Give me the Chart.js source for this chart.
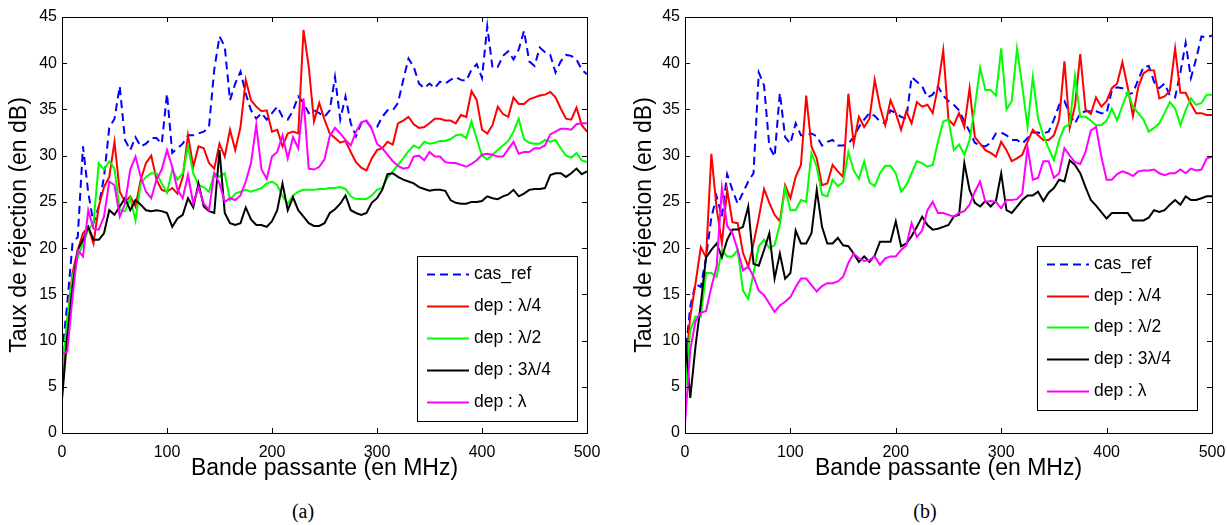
<!DOCTYPE html>
<html>
<head>
<meta charset="utf-8">
<title>Taux de réjection</title>
<script src="https://cdn.jsdelivr.net/npm/chart.js@4.4.0/dist/chart.umd.min.js"></script>
<style>
  html, body { margin: 0; padding: 0; background: #fff; }
  #page { position: relative; width: 1227px; height: 525px; overflow: hidden; }
  canvas { position: absolute; top: 0; }
  #chartA { left: 0; }
  #chartB { left: 617px; }
  .caption { position: absolute; top: 500px; width: 60px; text-align: center;
             font-family: 'Liberation Serif', 'DejaVu Serif', serif; font-size: 20px; color: #000; }
</style>
</head>
<body>
<div id="page">
  <canvas id="chartA" width="610" height="490" style="width:610px;height:490px"></canvas>
  <canvas id="chartB" width="610" height="490" style="width:610px;height:490px"></canvas>
  <div class="caption" style="left:273px">(a)</div>
  <div class="caption" style="left:895px">(b)</div>
</div>
<script>

const freqMHz = [
  0, 5, 10, 15, 20, 25, 30, 35, 40, 45, 50, 55, 60, 65, 70, 75, 80, 85, 90, 95,
  100, 105, 110, 115, 120, 125, 130, 135, 140, 145, 150, 155, 160, 165, 170, 175, 180, 185, 190, 195,
  200, 205, 210, 215, 220, 225, 230, 235, 240, 245, 250, 255, 260, 265, 270, 275, 280, 285, 290, 295,
  300, 305, 310, 315, 320, 325, 330, 335, 340, 345, 350, 355, 360, 365, 370, 375, 380, 385, 390, 395,
  400, 405, 410, 415, 420, 425, 430, 435, 440, 445, 450, 455, 460, 465, 470, 475, 480, 485, 490, 495,
  500
];

const xTickValues = [0, 100, 200, 300, 400, 500];
const yTickValues = [0, 5, 10, 15, 20, 25, 30, 35, 40, 45];

const seriesLabels = ['cas_ref', 'dep : λ/4', 'dep : λ/2', 'dep : 3λ/4', 'dep : λ'];
const seriesColors = ['#0000ff', '#ff0000', '#00ff00', '#000000', '#ff00ff'];

// figure (a)
const casRefA = [
  8.5, 14, 20.5, 21.2, 31, 26, 22.7, 24.5, 27.7, 33, 34, 37.5, 31.7, 30.6, 32, 31, 31.3, 31.9, 31.9, 31.3, 36.7, 30.3, 30.8, 31.3, 32.2,
  32.2, 32.4, 32.6, 33.1, 39.3, 42.9, 41.8, 36, 37.8, 39.1, 36.7, 34.9, 34, 34.6, 33.9, 34.6, 35.3, 34.2, 33.9, 34.9, 36.4, 35.7, 34.6, 34.9, 34.6,
  34.2, 34.9, 38.5, 33.9, 36.4, 33.5, 32.1, 33.5, 33.7, 33, 33.1, 34.2, 34.9, 34.9, 35.7, 38.2, 40.5, 39.6, 37.8, 37.3, 37.8, 37.3, 38, 37.8, 38.2,
  38.5, 38.2, 38.1, 39.3, 39.9, 38.4, 44, 39.5, 39.6, 40.8, 41.3, 40.4, 41.5, 43.5, 40.2, 39.7, 41.7, 41.2, 40.9, 39, 40.2, 40.9, 40.8, 40.4, 39.3, 38.8
];
const quartA = [
  4.3, 12.2, 17.3, 19.8, 21.6, 22.3, 20.5, 24.5, 26.6, 27.7, 31.5, 26.1, 25, 25.6, 24.5, 27.4, 29.2, 30, 27.4, 26.3, 26.1, 26.5, 25.9, 27.7, 32.2,
  28.8, 31, 30.8, 29.2, 28.6, 31.3, 29.9, 32.8, 30.6, 33.1, 38.2, 36, 35.3, 34.8, 34.9, 32.6, 32.8, 31, 32.4, 32.6, 32.4, 43.6, 39.6, 33.7, 35.7,
  33.9, 32.4, 31.9, 31.4, 31.6, 30.4, 29.3, 28.7, 28.4, 29.7, 30.6, 30.8, 31.5, 31.2, 33.5, 33.8, 34.2, 33.4, 33, 33.1, 33.5, 34, 34, 33.8, 33.8,
  33.5, 34.4, 34.2, 37, 36, 32.8, 32.4, 33.3, 35.3, 34.5, 34.2, 36.3, 35.6, 35.6, 36.1, 36.3, 36.5, 36.6, 36.9, 36.3, 35.1, 34, 33.9, 35.2, 33.3, 32.6
];
const halfA = [
  6.8, 12.2, 16.9, 19, 20.5, 22, 22.7, 29.2, 28.5, 29.4, 28.6, 24.1, 24, 25.4, 23, 27, 27.7, 28.1, 28.1, 27, 26, 28.5, 27.4, 28.1, 31,
  28.1, 26.8, 26.6, 26.1, 28.1, 27.7, 28.1, 25.2, 25.9, 26.1, 26.3, 26.1, 26.3, 26.5, 27, 27.2, 26.8, 25.6, 24.8, 25.7, 26.1, 26.3, 26.3, 26.3, 26.4,
  26.4, 26.5, 26.5, 26.6, 26.4, 25.6, 25.3, 25.3, 25.3, 25.7, 26.3, 26.5, 27.6, 28.3, 29, 29.7, 30.5, 31.1, 30.8, 31.5, 31.3, 31.4, 31.6, 31.6, 31.8,
  32.2, 32.3, 31.9, 33.7, 31.8, 30, 29.6, 30.1, 30.6, 31.1, 31.6, 32.6, 34, 31.8, 31.4, 31.3, 31.3, 31.7, 31.5, 31.7, 30.8, 30, 29.8, 30.3, 29.5, 29.3
];
const threeQuartA = [
  3.6, 10.4, 15.8, 19.8, 20.9, 22.3, 20.9, 20.9, 21.6, 24.1, 23.6, 24.5, 25.4, 24.1, 25.2, 24.7, 24.1, 24, 24.1, 24, 23.8, 22.3, 23.2, 23.6, 25.4,
  24.4, 27, 24.5, 24, 23.8, 30.6, 23.8, 22.7, 22.5, 22.7, 24.4, 23.1, 22.5, 22.5, 22.3, 22.9, 24.1, 27, 24.1, 25.5, 24.1, 23.4, 22.7, 22.4, 22.4,
  22.7, 23.8, 24.2, 24.8, 25.7, 24.1, 23.8, 23.6, 23.8, 24.9, 25.4, 26.3, 28, 28.1, 27.7, 27.4, 27.2, 27, 26.6, 26.4, 26.2, 26.3, 26.3, 26.2, 25.2,
  24.9, 24.8, 24.8, 25, 25, 25.1, 25.6, 25.4, 25.3, 25.6, 25.8, 26.3, 25.6, 25.9, 26.3, 26.4, 26.4, 26.5, 27.9, 28.1, 28.1, 27.7, 28.1, 28.6, 28, 28.3
];
const fullA = [
  8.6, 8.8, 14.7, 19.8, 19.1, 24.1, 22.1, 22, 23.4, 27.2, 26.8, 23.4, 24.8, 28.5, 29.9, 27.7, 26.1, 25.4, 27.4, 28.5, 30.6, 28.8, 26.3, 25.4, 27.9,
  24.8, 26.6, 24.8, 24.1, 28.1, 27, 25, 25.4, 25.2, 25.7, 27.2, 29.2, 33.3, 28.5, 27.5, 29.9, 30.4, 32.2, 29.7, 32, 30.8, 36.2, 28.6, 28.5, 28.8,
  29.6, 32.1, 33, 32.4, 31.7, 31.1, 32.6, 33.6, 33.8, 32.9, 31.3, 30.8, 30.1, 29.4, 28.9, 28.6, 28.7, 29.9, 30, 29.5, 30.4, 29.9, 29.9, 29.3, 29.2,
  29.2, 29, 28.8, 29.1, 29.5, 30.1, 30.2, 30.1, 29.9, 29.9, 30.7, 31.5, 30.2, 30.4, 30.4, 30.8, 30.8, 31.1, 32.3, 32.6, 32.9, 32.9, 32.8, 33.4, 33.5, 33.5
];

// figure (b)
const casRefB = [
  8, 13.7, 16.1, 15.8, 19, 23.3, 25.6, 23.4, 28, 26.3, 24.8, 26, 27.2, 28.1, 39, 37.6, 31, 29.9, 36.8, 32, 31.3, 33.5, 32.2, 32.2, 32.4,
  32.1, 31.1, 31.5, 31.7, 31.1, 31.1, 31.3, 32, 33.1, 33.9, 34.6, 34.3, 33.7, 33.5, 34.9, 34.6, 34.2, 34, 38.5, 38, 37.5, 36.3, 36.6, 37.5,
  36.5, 35.9, 35.5, 34.9, 33.7, 32.6, 31.4, 31.1, 31, 31.4, 32.4, 32.5, 32.2, 31.7, 31.7, 31.3, 31.9, 32.5, 32.5, 32.4, 32.6, 33.9, 35.5, 35.9, 34.5,
  33.5, 34.6, 34.8, 34.8, 34.8, 34.6, 34.6, 37.1, 37.4, 37.3, 36.6, 36.8, 38.2, 39.6, 39.7, 38, 37.3, 37.8, 36.5, 36.3, 39, 42.2, 38.4, 40.5, 42.9, 42.8, 43
];
const quartB = [
  6.5, 12.6, 16.2, 20.1, 19, 30.2, 24.3, 20.5, 26.3, 22.8, 22.7, 19.5, 18, 20.5, 23.3, 26.4, 24.9, 23.6, 22.9, 26.8, 25.4, 27.7, 29, 36.5, 31,
  29.7, 26.8, 27, 29, 28.3, 27.7, 36.7, 31.3, 34.2, 33.1, 34, 38.2, 35.3, 33.3, 36, 34.6, 32.8, 34.8, 33.5, 35.8, 35.3, 35.5, 34.6, 37.5,
  41.4, 33.9, 33.3, 34.6, 33.1, 37.3, 32, 31.3, 30.6, 30.3, 29.9, 31.5, 30.6, 29.4, 29.7, 30.1, 31.5, 32.8, 32.2, 31.7, 31.7, 32.2, 33.9, 40.2, 33,
  35.4, 41, 35, 34.5, 36.3, 35.3, 35.9, 37.3, 37.8, 40.1, 37.4, 34.3, 37.4, 38.9, 39.3, 39.2, 36.2, 36.4, 37, 41.6, 36.8, 36.8, 35.6, 34.6, 34.6, 34.4, 34.4
];
const halfB = [
  4.7, 11.1, 12.6, 12.6, 17.3, 17.3, 16.9, 19.8, 19.1, 19.1, 19.8, 15.4, 14.5, 17.3, 20.2, 20.9, 20, 20.3, 22.6, 26.5, 24.1, 24.1, 25.2, 25, 30.3,
  28.8, 25.8, 25.6, 27.4, 26.7, 27.1, 30.4, 28.4, 27.5, 29.4, 27.1, 26.7, 28.1, 28.9, 28.9, 28.1, 26.1, 26.8, 28.1, 29.4, 29.2, 28.8, 29, 31.5,
  33.7, 33.9, 30.6, 31.2, 30.1, 31.7, 35.3, 39.5, 37.1, 37.1, 36.5, 41.6, 35, 35.9, 41.6, 37.5, 33.1, 38.5, 34, 32.2, 30.8, 29.5, 31.7, 33.1, 33.4,
  38.6, 34.2, 34.2, 33.8, 33.3, 33.3, 33.8, 35.1, 33.8, 35.4, 36.9, 35.3, 34.6, 33.9, 32.6, 33, 33.5, 34.6, 35.8, 35.1, 33.3, 34.9, 36.2, 35.5, 35.7, 36.6, 36.6
];
const threeQuartB = [
  10.6, 3.8, 9.4, 14, 19, 19.8, 20.5, 19, 20.9, 22, 22, 22.3, 24.5, 18.3, 18.1, 19.8, 21.6, 16.7, 19.4, 16.7, 17.3, 21.9, 20.5, 20.5, 21.6,
  26.3, 22.3, 20.5, 20.5, 21.1, 20.3, 20.2, 19.4, 18.5, 19.1, 18.5, 19.2, 20.7, 20.7, 20.7, 22.9, 20.2, 20.5, 21.3, 22.3, 23.4, 22.5, 22, 22.1,
  22.3, 22.5, 23.4, 23.6, 29.2, 26.3, 24.9, 24.5, 25.1, 24.5, 25.1, 28.1, 24.1, 23.8, 24.5, 25.2, 25.7, 25.7, 26.1, 25.1, 26, 26.5, 27.4, 27.2, 29.5,
  29, 28.1, 26.6, 25.2, 24.6, 23.9, 23.2, 23.8, 23.8, 23.8, 23.8, 23, 23, 23, 23.3, 24.1, 23.9, 24.1, 24.7, 25.2, 24.7, 25.6, 25.2, 25.2, 25.4, 25.6, 25.6
];
const fullB = [
  1, 9, 12.1, 13, 13.2, 15.8, 18, 26.5, 22.4, 21.6, 19.8, 17.6, 18, 16.9, 15.4, 14.9, 14, 13.1, 13.8, 14.2, 14.7, 15.8, 16.7, 16.7, 16,
  15.3, 15.9, 16.2, 16.2, 16.4, 16.9, 18.4, 19.4, 18.9, 18.6, 18.7, 19.1, 18.2, 18.9, 19.1, 19.1, 19.8, 20.3, 22.7, 21.2, 21.9, 24.1, 25, 23.8,
  23.8, 23.6, 23.4, 23.8, 24, 24.7, 26.1, 27.2, 25, 25.1, 25, 24.3, 25.2, 25.2, 25.3, 25.9, 30.9, 27.4, 27.6, 29.4, 29.4, 27.6, 28.1, 30.8, 30,
  29.3, 29.1, 30.4, 32.7, 33.1, 29.9, 27.4, 27.4, 28, 28.3, 28.1, 27.8, 28.3, 28.4, 28.4, 28.5, 28.1, 27.9, 28.1, 28.1, 28.5, 28.1, 28.6, 28.4, 28.5, 29.7, 29.9
];

const sansFont = "'Liberation Sans', Arial, Helvetica, sans-serif";
const tickFont = { family: sansFont, size: 16 };
const titleFont = { family: sansFont, size: 23, lineHeight: 1.2 };

// cadre + graduations vers l'interieur (style matlab)
const cadre = {
  id: 'cadre',
  afterDatasetsDraw(chart) {
    const { ctx, chartArea: a, scales } = chart;
    ctx.save();
    ctx.strokeStyle = '#000';
    ctx.lineWidth = 1;
    ctx.beginPath();
    scales.x.ticks.forEach(t => {
      const px = Math.round(scales.x.getPixelForValue(t.value)) + 0.5;
      ctx.moveTo(px, a.bottom); ctx.lineTo(px, a.bottom - 5);
      ctx.moveTo(px, a.top); ctx.lineTo(px, a.top + 5);
    });
    scales.y.ticks.forEach(t => {
      const py = Math.round(scales.y.getPixelForValue(t.value)) + 0.5;
      ctx.moveTo(a.left, py); ctx.lineTo(a.left + 5, py);
      ctx.moveTo(a.right, py); ctx.lineTo(a.right - 5, py);
    });
    ctx.stroke();
    ctx.strokeRect(Math.round(a.left) + 0.5, Math.round(a.top) + 0.5,
                   Math.round(a.right - a.left), Math.round(a.bottom - a.top));
    ctx.restore();
  }
};

// legende encadree dans le graphe
const boxLegend = {
  id: 'boxLegend',
  afterDraw(chart, args, o) {
    const { ctx, chartArea: a } = chart;
    const bx = Math.round(a.right - o.right - o.width);
    const by = Math.round(a.bottom - o.bottom - o.height);
    ctx.save();
    ctx.fillStyle = '#fff';
    ctx.fillRect(bx, by, o.width, o.height);
    ctx.strokeStyle = '#000';
    ctx.lineWidth = 1;
    ctx.strokeRect(bx + 0.5, by + 0.5, o.width, o.height);
    ctx.font = '17.5px ' + sansFont;
    ctx.textBaseline = 'middle';
    chart.data.datasets.forEach((ds, i) => {
      const ly = Math.round(by + o.firstRow + i * o.rowGap) + 0.5;
      ctx.strokeStyle = ds.borderColor;
      ctx.lineWidth = 2;
      ctx.setLineDash(ds.borderDash);
      ctx.beginPath();
      ctx.moveTo(bx + 10, ly);
      ctx.lineTo(bx + 52, ly);
      ctx.stroke();
      ctx.setLineDash([]);
      ctx.fillStyle = '#000';
      ctx.fillText(ds.label, bx + 57, ly);
    });
    ctx.restore();
  }
};

function makeChart(id, series, cfg) {
  const datasets = series.map((vals, i) => ({
    label: seriesLabels[i],
    data: freqMHz.map((f, k) => ({ x: f, y: vals[k] })),
    borderColor: seriesColors[i],
    borderWidth: 2,
    borderDash: i === 0 ? [8, 5] : [],
    pointRadius: 0,
    tension: 0,
    order: series.length - i
  }));

  return new Chart(document.getElementById(id), {
    type: 'line',
    data: { datasets },
    options: {
      responsive: false,
      animation: false,
      layout: { padding: { top: 17, right: cfg.padRight, left: 0, bottom: 0 } },
      plugins: {
        legend: { display: false },
        tooltip: { enabled: false },
        boxLegend: cfg.legend
      },
      scales: {
        x: {
          type: 'linear',
          min: 0,
          max: 500,
          afterBuildTicks: s => { s.ticks = xTickValues.map(v => ({ value: v })); },
          afterFit: s => { s.height = 57; s.paddingLeft = 0; s.paddingRight = 0; },
          grid: { display: false, drawTicks: false },
          border: { display: false },
          ticks: { font: tickFont, color: '#000', padding: 10, maxRotation: 0 },
          title: { display: true, text: 'Bande passante (en MHz)', font: titleFont, color: '#000',
                   padding: { top: 0, bottom: 8 } }
        },
        y: {
          min: 0,
          max: 45,
          afterBuildTicks: s => { s.ticks = yTickValues.map(v => ({ value: v })); },
          afterFit: s => { s.width = cfg.yWidth; },
          grid: { display: false, drawTicks: false },
          border: { display: false },
          ticks: { font: tickFont, color: '#000', padding: 5 },
          title: { display: true, text: 'Taux de réjection (en dB)', font: titleFont, color: '#000',
                   padding: { top: cfg.yTitlePad, bottom: 0 } }
        }
      }
    },
    plugins: [cadre, boxLegend]
  });
}

makeChart('chartA', [casRefA, quartA, halfA, threeQuartA, fullA], {
  yWidth: 62, padRight: 23, yTitlePad: 5.5,
  legend: { right: 10, bottom: 12, width: 160, height: 165, firstRow: 18, rowGap: 32 }
});

makeChart('chartB', [casRefB, quartB, halfB, threeQuartB, fullB], {
  yWidth: 68, padRight: 15, yTitlePad: 14,
  legend: { right: 15, bottom: 23, width: 160, height: 164, firstRow: 18, rowGap: 31.7 }
});
</script>
</body>
</html>
